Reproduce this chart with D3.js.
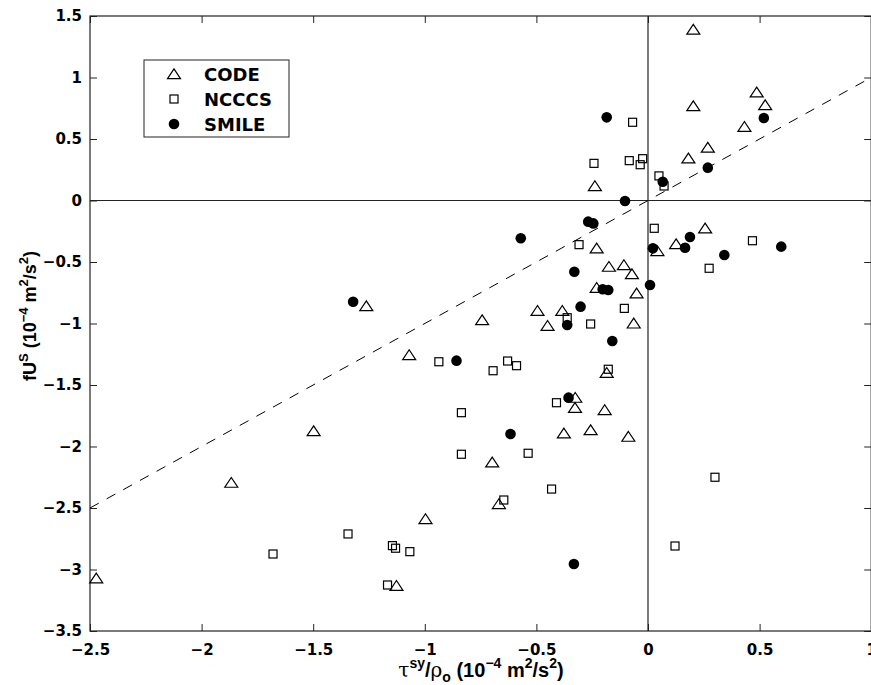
<!DOCTYPE html>
<html>
<head>
<meta charset="utf-8">
<script src="https://cdn.jsdelivr.net/npm/d3@7"></script>
<style>
  body { margin: 0; background: #fff; }
  svg { display: block; }
  .tick text { font-family: "DejaVu Sans", sans-serif; font-weight: bold; font-size: 15px; fill: #000; }
  .tick line { stroke: #222; stroke-width: 1; }
  .lab { font-family: "Liberation Sans", Arial, sans-serif; font-weight: bold; font-size: 18px; fill: #000; }
</style>
</head>
<body>
<svg id="chart" width="871" height="685"></svg>
<script>
// data: tau^sy/rho_o (x) vs fU^S (y), 10^-4 m^2/s^2
var codeX = [0.203, 0.487, 0.203, 0.525, 0.432, 0.268, 0.181, -0.238, 0.256, 0.126,
  -0.230, 0.042, -0.175, -0.108, -0.072, -0.230, -0.051, -0.743, -0.495, -0.384,
  -0.450, -0.064, -1.262, -1.070, -0.326, -0.327, -1.498, -0.377, -0.257, -0.698,
  -0.185, -0.194, -0.088, -0.668, -0.997, -1.127, -1.867, -2.472];
var codeY = [1.39, 0.88, 0.768, 0.776, 0.60, 0.43, 0.343, 0.118, -0.226, -0.354,
  -0.389, -0.41, -0.538, -0.524, -0.598, -0.709, -0.755, -0.972, -0.896, -0.896,
  -1.018, -0.999, -0.858, -1.256, -1.603, -1.685, -1.874, -1.893, -1.866, -2.128,
  -1.40, -1.703, -1.920, -2.467, -2.589, -3.132, -2.294, -3.072];

var ncccsX = [-0.069, -0.242, -0.084, -0.024, -0.035, 0.049, 0.072, 0.028, 0.468, -0.309,
  -0.106, -0.362, -0.257, -0.937, -0.629, -0.589, -0.694, -0.410, -0.836, -0.836,
  -0.537, -0.432, -0.178, 0.300, 0.274, 0.121, -0.646, -1.344, -1.145, -1.131,
  -1.067, -1.167, -1.680];
var ncccsY = [0.636, 0.302, 0.324, 0.34, 0.291, 0.20, 0.118, -0.226, -0.327, -0.359,
  -0.877, -0.953, -1.004, -1.311, -1.305, -1.343, -1.384, -1.644, -1.725, -2.063,
  -2.055, -2.346, -1.372, -2.250, -0.551, -2.809, -2.435, -2.711, -2.806, -2.827,
  -2.855, -3.126, -2.874];

var smileX = [-0.185, 0.519, 0.268, 0.066, -0.103, -0.268, -0.245, 0.188, 0.597, 0.022,
  0.166, -0.570, -0.330, 0.009, -0.203, -0.178, -0.302, -0.362, -0.160, -1.321,
  -0.858, -0.356, -0.616, 0.342, -0.332];
var smileY = [0.676, 0.671, 0.267, 0.153, -0.004, -0.172, -0.186, -0.297, -0.375, -0.389,
  -0.384, -0.307, -0.579, -0.687, -0.722, -0.728, -0.863, -1.012, -1.142, -0.823,
  -1.302, -1.603, -1.898, -0.443, -2.955];

var xTicks = [-2.5, -2, -1.5, -1, -0.5, 0, 0.5, 1];
var yTicks = [-3.5, -3, -2.5, -2, -1.5, -1, -0.5, 0, 0.5, 1, 1.5];
var legendNames = ["CODE", "NCCCS", "SMILE"];

var svg = d3.select("#chart");
var mLeft = 90, mRight = 871.2, mTop = 16, mBottom = 631;

var x = d3.scaleLinear().domain([-2.5, 1]).range([mLeft, mRight]);
var y = d3.scaleLinear().domain([-3.5, 1.5]).range([mBottom, mTop]);

function fmt(d) { return d3.format("")(d).replace("-", "\u2212"); }

// axes, ticks pointing inward
svg.append("g").attr("transform", "translate(0," + mBottom + ")")
  .call(d3.axisBottom(x).tickValues(xTicks).tickFormat(fmt).tickSizeInner(-7).tickSizeOuter(0).tickPadding(13))
  .call(g => g.select(".domain").remove());
svg.append("g").attr("transform", "translate(0," + mTop + ")")
  .call(d3.axisTop(x).tickValues(xTicks).tickFormat("").tickSizeInner(-7).tickSizeOuter(0))
  .call(g => g.select(".domain").remove());
svg.append("g").attr("transform", "translate(" + mLeft + ",0)")
  .call(d3.axisLeft(y).tickValues(yTicks).tickFormat(fmt).tickSizeInner(-7).tickSizeOuter(0).tickPadding(8))
  .call(g => g.select(".domain").remove());
svg.append("g").attr("transform", "translate(" + mRight + ",0)")
  .call(d3.axisRight(y).tickValues(yTicks).tickFormat("").tickSizeInner(-7).tickSizeOuter(0))
  .call(g => g.select(".domain").remove());

// frame
svg.append("rect").attr("x", mLeft).attr("y", mTop)
  .attr("width", mRight - mLeft).attr("height", mBottom - mTop)
  .attr("fill", "none").attr("stroke", "#222").attr("stroke-width", 1.2);

// zero lines
svg.append("line").attr("x1", mLeft).attr("x2", mRight).attr("y1", y(0)).attr("y2", y(0))
  .attr("stroke", "#222").attr("stroke-width", 1.2);
svg.append("line").attr("x1", x(0)).attr("x2", x(0)).attr("y1", mTop).attr("y2", mBottom)
  .attr("stroke", "#222").attr("stroke-width", 1.2);

// 1:1 line
svg.append("line").attr("x1", x(-2.5)).attr("y1", y(-2.5)).attr("x2", x(1)).attr("y2", y(1))
  .attr("stroke", "#000").attr("stroke-width", 1).attr("stroke-dasharray", "10,9");

function triPath(cx, cy) {
  // triangle, base wider than tall like matlab '^'
  return "M" + cx + "," + (cy - 5.2) + "L" + (cx + 6.5) + "," + (cy + 4.6) + "L" + (cx - 6.5) + "," + (cy + 4.6) + "Z";
}

var code = codeX.map((d, i) => ({ x: d, y: codeY[i] }));
var ncccs = ncccsX.map((d, i) => ({ x: d, y: ncccsY[i] }));
var smile = smileX.map((d, i) => ({ x: d, y: smileY[i] }));

svg.append("g").selectAll("path").data(code).join("path")
  .attr("d", d => triPath(x(d.x), y(d.y)))
  .attr("fill", "none").attr("stroke", "#000").attr("stroke-width", 1.2);

svg.append("g").selectAll("rect").data(ncccs).join("rect")
  .attr("x", d => x(d.x) - 4).attr("y", d => y(d.y) - 4)
  .attr("width", 8).attr("height", 8)
  .attr("fill", "none").attr("stroke", "#000").attr("stroke-width", 1.2);

svg.append("g").selectAll("circle").data(smile).join("circle")
  .attr("cx", d => x(d.x)).attr("cy", d => y(d.y)).attr("r", 5.3)
  .attr("fill", "#000");

// legend
var lg = svg.append("g");
lg.append("rect").attr("x", 144).attr("y", 60).attr("width", 145).attr("height", 77)
  .attr("fill", "#fff").attr("stroke", "#222").attr("stroke-width", 1);
legendNames.forEach(function (name, i) {
  var cy = 74 + i * 25;
  if (i == 0) lg.append("path").attr("d", triPath(174, cy)).attr("fill", "none").attr("stroke", "#000").attr("stroke-width", 1.2);
  if (i == 1) lg.append("rect").attr("x", 170).attr("y", cy - 4).attr("width", 8).attr("height", 8)
    .attr("fill", "none").attr("stroke", "#000").attr("stroke-width", 1.2);
  if (i == 2) lg.append("circle").attr("cx", 174).attr("cy", cy).attr("r", 5.3).attr("fill", "#000");
  lg.append("text").attr("x", 204).attr("y", cy + 7)
    .style("font-family", "'DejaVu Sans', sans-serif").style("font-weight", "bold").style("font-size", "18px")
    .text(name);
});

// axis labels
var xl = svg.append("text").attr("class", "lab").attr("x", 481).attr("y", 677)
  .attr("text-anchor", "middle").style("font-size", "20px");
xl.append("tspan").style("font-weight", "normal").style("font-family", "'DejaVu Serif', serif").text("\u03c4");
xl.append("tspan").attr("dy", -9).style("font-size", "14px").text("sy");
xl.append("tspan").attr("dy", 9).text("/");
xl.append("tspan").style("font-weight", "normal").style("font-family", "'DejaVu Serif', serif").text("\u03c1");
xl.append("tspan").attr("dy", 5).style("font-size", "14px").text("o");
xl.append("tspan").attr("dy", -5).text(" (10");
xl.append("tspan").attr("dy", -9).style("font-size", "14px").text("\u22124");
xl.append("tspan").attr("dy", 9).text(" m");
xl.append("tspan").attr("dy", -9).style("font-size", "14px").text("2");
xl.append("tspan").attr("dy", 9).text("/s");
xl.append("tspan").attr("dy", -9).style("font-size", "14px").text("2");
xl.append("tspan").attr("dy", 9).text(")");

var yl = svg.append("text").attr("class", "lab").attr("text-anchor", "middle")
  .attr("transform", "translate(36,316) rotate(-90)");
yl.append("tspan").text("fU");
yl.append("tspan").attr("dy", -8).style("font-size", "13px").text("S");
yl.append("tspan").attr("dy", 8).text(" (10");
yl.append("tspan").attr("dy", -8).style("font-size", "13px").text("\u22124");
yl.append("tspan").attr("dy", 8).text(" m");
yl.append("tspan").attr("dy", -8).style("font-size", "13px").text("2");
yl.append("tspan").attr("dy", 8).text("/s");
yl.append("tspan").attr("dy", -8).style("font-size", "13px").text("2");
yl.append("tspan").attr("dy", 8).text(")");
</script>
</body>
</html>
